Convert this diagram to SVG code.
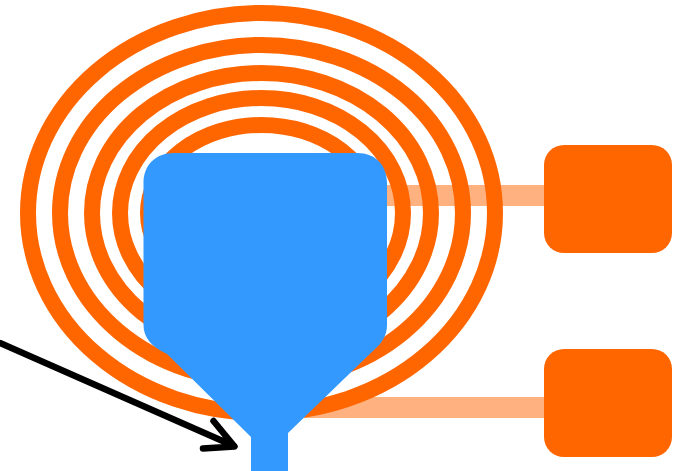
<svg xmlns="http://www.w3.org/2000/svg" width="681" height="471" viewBox="0 0 681 471">
<style>
.ring{fill:none;stroke:#f60;stroke-width:16}
.bar{fill:#ffb27f}
.box{fill:#f60}
.arrow{fill:none;stroke:#000;stroke-width:6.500;stroke-linecap:round;stroke-linejoin:round}
</style>
<rect width="681" height="471" fill="#fff"/>
<g id="connectors">
<rect class="bar" x="261" y="185" width="284" height="21"/>
<rect class="bar" x="261" y="397" width="284" height="21"/>
</g>
<g id="rings">
<ellipse class="ring" cx="261.500" cy="213" rx="233.500" ry="200"/>
<ellipse class="ring" cx="261.500" cy="213" rx="201.500" ry="168"/>
<ellipse class="ring" cx="261.500" cy="213" rx="169.500" ry="140"/>
<ellipse class="ring" cx="261.500" cy="213" rx="141.500" ry="115"/>
<ellipse class="ring" cx="261.500" cy="213" rx="113.500" ry="88"/>
</g>
<g id="box-top"><rect class="box" x="544" y="145" width="128" height="108" rx="20"/></g>
<g id="box-bottom"><rect class="box" x="544" y="349" width="128" height="108" rx="20"/></g>
<g id="funnel"><path fill="#39f" d="M173.500 153H357.500C375 153 387 165 387 183V325C387 335 382 343 375 349L288 433V471H251V437L167 354C152 347 143.500 338 143.500 325V183C143.500 165 156 153 173.500 153Z"/></g>
<g id="arrow"><path class="arrow" d="M0 343L234 446M213.500 421L234.500 446.500L203 448.500"/></g>
</svg>
